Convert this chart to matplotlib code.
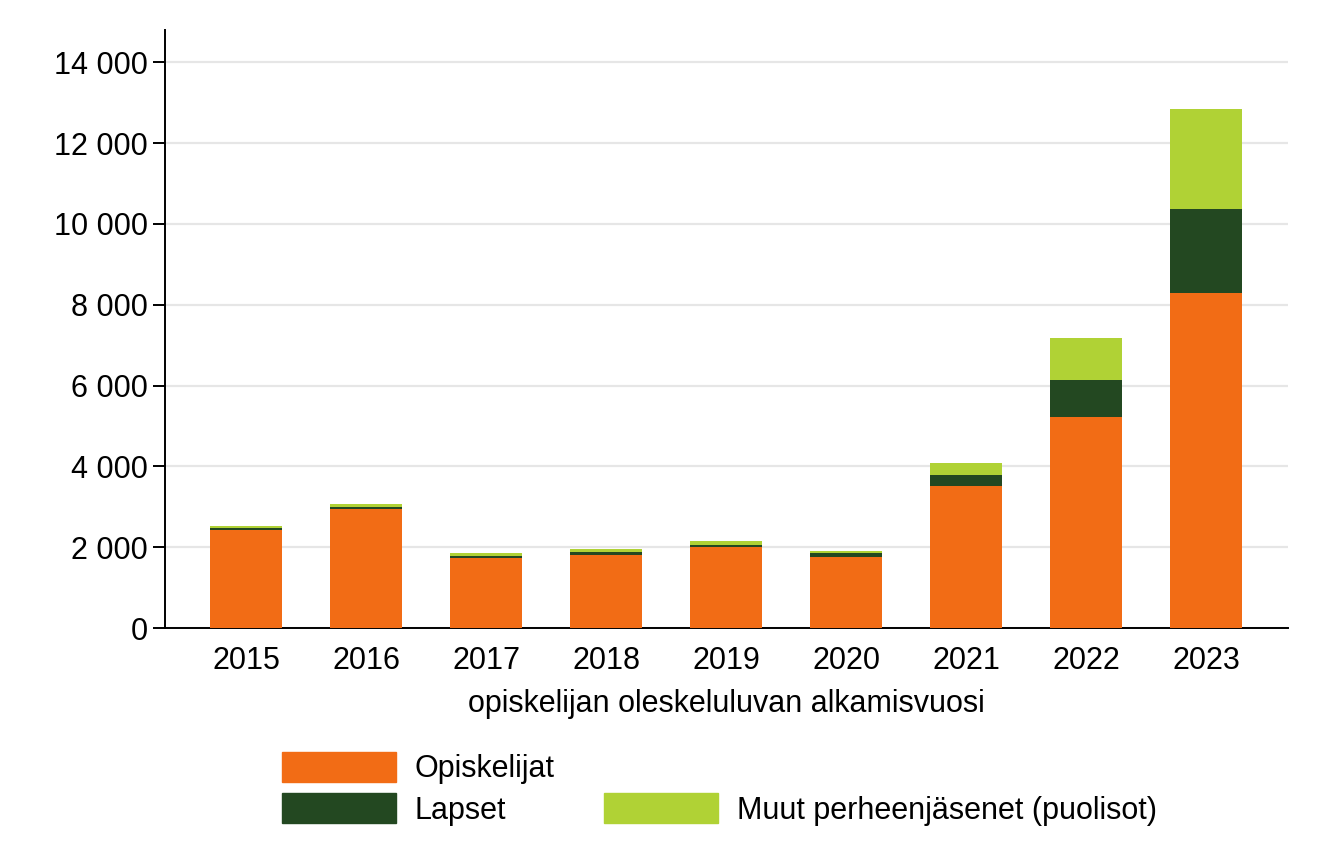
import numpy as np
import matplotlib
matplotlib.use('Agg')
import matplotlib.pyplot as plt
from matplotlib.patches import Patch
from matplotlib.ticker import FuncFormatter, MultipleLocator

plt.rcParams['font.family'] = ['Liberation Sans', 'DejaVu Sans']

vuodet = ['2015', '2016', '2017', '2018', '2019', '2020', '2021', '2022', '2023']
opiskelijat = [2430, 2940, 1740, 1805, 1995, 1765, 3515, 5215, 8285]
lapset = [40, 50, 40, 70, 60, 80, 270, 915, 2080]
muut = [50, 70, 65, 75, 90, 50, 300, 1040, 2470]

c_opisk = '#F26C15'
c_lapset = '#234821'
c_muut = '#B0D235'
fs = 22

fig = plt.figure(figsize=(13.2, 8.55), dpi=100)
ax = fig.add_axes([165/1320, 1 - 628/855, (1288 - 165)/1320, (628 - 30)/855])

x = np.arange(len(vuodet))
w = 0.6
op = np.array(opiskelijat)
la = np.array(lapset)
mu = np.array(muut)
ax.bar(x, op, w, color=c_opisk, zorder=3)
ax.bar(x, la, w, bottom=op, color=c_lapset, zorder=3)
ax.bar(x, mu, w, bottom=op + la, color=c_muut, zorder=3)

ax.set_xlim(-0.675, len(vuodet) - 1 + 0.68)
ax.set_ylim(0, 14800)
ax.yaxis.set_major_locator(MultipleLocator(2000))
ax.yaxis.set_major_formatter(FuncFormatter(lambda v, p: '{:,.0f}'.format(v).replace(',', ' ')))
ax.set_xticks(x)
ax.set_xticklabels(vuodet)
ax.tick_params(axis='x', length=0, labelsize=fs, pad=13)
ax.tick_params(axis='y', length=8.5, width=1.4, labelsize=fs, pad=4)
ax.grid(axis='y', color='#e6e6e6', linewidth=1.6, zorder=0)
ax.set_axisbelow(True)
for s in ['top', 'right']:
    ax.spines[s].set_visible(False)
for s in ['left', 'bottom']:
    ax.spines[s].set_linewidth(1.4)
ax.set_xlabel('opiskelijan oleskeluluvan alkamisvuosi', fontsize=fs, labelpad=9)

handles = [Patch(color=c_opisk), Patch(color=c_lapset),
           Patch(color='none'), Patch(color=c_muut)]
labels = ['Opiskelijat', 'Lapset', '', 'Muut perheenjäsenet (puolisot)']
fig.legend(handles, labels, ncol=2, loc='upper left',
           bbox_to_anchor=(282/1320, 1 - 752/855), frameon=False,
           fontsize=fs, handlelength=3.73, handleheight=1.12,
           handletextpad=0.62, columnspacing=1.6, labelspacing=0.3,
           borderpad=0, borderaxespad=0)

fig.savefig('out.png', dpi=100)
